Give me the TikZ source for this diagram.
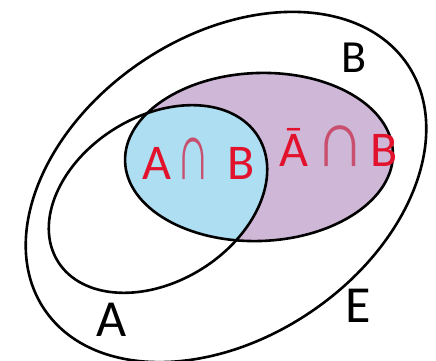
\documentclass[tikz,border=0pt]{standalone}
\usepackage{fontspec}
\setmainfont{Carlito}
\newfontfamily\symfont{Liberation Sans}
\definecolor{bpurple}{RGB}{207,183,216}
\definecolor{abcyan}{RGB}{173,222,242}
\definecolor{labred}{RGB}{226,18,44}
\definecolor{capred}{RGB}{200,80,110}
\newcommand{\mycap}[2]{{\color{capred}\scalebox{#1}[#2]{\symfont ∩}}}
\begin{document}
\begin{tikzpicture}[x=1pt,y=1pt,
  outline/.style={draw=black, line width=2.6pt},
  redlab/.style={text=labred, font=\fontsize{50}{50}\selectfont, inner sep=0pt, anchor=base west},
  blklab/.style={text=black, font=\fontsize{52}{52}\selectfont, inner sep=0pt, anchor=base}]
\useasboundingbox (0,0) rectangle (436,361);
% fills
\fill[bpurple, rotate around={2:(259,204)}] (259,204) ellipse [x radius=134, y radius=84];
\begin{scope}
  \clip[rotate around={32:(158,162)}] (158,162) ellipse [x radius=118, y radius=82.5];
  \fill[abcyan, rotate around={2:(259,204)}] (259,204) ellipse [x radius=134, y radius=84];
\end{scope}
% outlines
\draw[outline, rotate around={34:(226,174)}] (226,174) ellipse [x radius=219, y radius=151];
\draw[outline, rotate around={2:(259,204)}] (259,204) ellipse [x radius=134, y radius=84];
\draw[outline, rotate around={32:(158,162)}] (158,162) ellipse [x radius=118, y radius=82.5];
% labels
\node[redlab] (ab) at (142,181) {A\hspace{5pt}\mycap{0.94}{1.65}\hspace{18pt}B};
\node[redlab] (nab) at (279,194) {\=A\hspace{7pt}\mycap{1.38}{1.62}\hspace{6pt}B};
\node[blklab, font=\fontsize{46}{46}\selectfont] (lb) at (354,288) {B};
\node[blklab] (la) at (112,24) {A};
\node[blklab] (le) at (358,38) {E};
\end{tikzpicture}
\end{document}
